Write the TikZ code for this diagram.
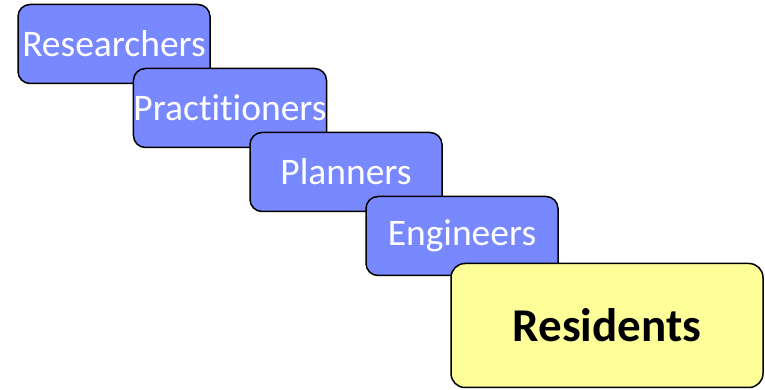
\documentclass[tikz,border=0pt]{standalone}
\usepackage{fontspec}
\setmainfont[Ligatures=NoCommon]{Carlito}
\definecolor{roleblue}{RGB}{120,137,255}
\definecolor{resyellow}{RGB}{255,255,153}
\tikzset{
	rolebox/.style={draw=black, line width=1.5pt, rounded corners=12pt, fill=roleblue,
		minimum width=192pt, minimum height=79pt, inner sep=0pt, text=white,
		font=\fontsize{37.5}{40}\selectfont},
	residentbox/.style={draw=black, line width=1.5pt, rounded corners=14pt, fill=resyellow,
		minimum width=312pt, minimum height=124pt, inner sep=0pt, text=black,
		font=\fontsize{47}{50}\selectfont\bfseries}
}
\begin{document}
\begin{tikzpicture}[x=1pt, y=1pt]
	\useasboundingbox (0,0) rectangle (765,390);
%	\coordinate (    ) at (X, 390-Y);
	\coordinate (c1) at (114, 346);
	\coordinate (c2) at (230, 282);
	\coordinate (c3) at (346, 218);
	\coordinate (c4) at (462, 154);
	\coordinate (c5) at (607, 64.5);

	\node[rolebox] (researchers) at (c1) {Researchers};
	\node[rolebox] (practitioners) at (c2) {Practitioners};
	\node[rolebox] (planners) at (c3) {Planners};
	\node[rolebox] (engineers) at (c4) {Engineers};
	\node[residentbox] (residents) at (c5) {Residents};
\end{tikzpicture}
\end{document}
